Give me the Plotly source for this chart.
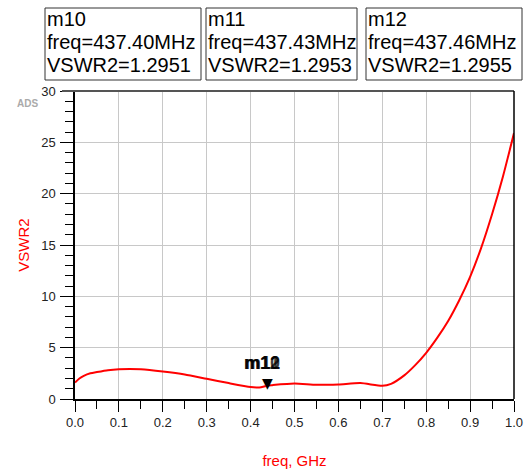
import plotly.graph_objects as go

freq = [0.0, 0.01, 0.02, 0.035, 0.05, 0.075, 0.1, 0.125, 0.15, 0.2, 0.25, 0.3, 0.35, 0.4, 0.42, 0.4374, 0.45, 0.5, 0.55, 0.6, 0.65, 0.7, 0.72, 0.75, 0.775, 0.8, 0.825, 0.85, 0.875, 0.9, 0.925, 0.95, 0.975, 1.0]
vswr = [1.6, 2.0, 2.26, 2.5, 2.62, 2.8, 2.9, 2.93, 2.9, 2.68, 2.39, 1.97, 1.55, 1.17, 1.12, 1.2951, 1.35, 1.5, 1.38, 1.42, 1.55, 1.28, 1.48, 2.3, 3.3, 4.5, 5.95, 7.6, 9.6, 11.9, 14.7, 18.0, 21.7, 25.9]

markers = ["m10", "m11", "m12"]
marker_freq_mhz = ["437.40", "437.43", "437.46"]
marker_vswr = ["1.2951", "1.2953", "1.2955"]
marker_x = 0.4374
marker_y = 1.2951

x_ticks = [0.0, 0.1, 0.2, 0.3, 0.4, 0.5, 0.6, 0.7, 0.8, 0.9, 1.0]
y_ticks = [0, 5, 10, 15, 20, 25, 30]

FONT = "Liberation Sans, Arial, sans-serif"

fig = go.Figure()
fig.add_trace(go.Scatter(x=freq, y=vswr, mode="lines",
                         line=dict(color="#ff0000", width=2, shape="spline", smoothing=0.6),
                         hoverinfo="skip", showlegend=False))

W, H = 525, 469
L, R, T, B = 75, 11, 91, 70
pw, ph = W - L - R, H - T - B

def px(xp):  # page pixel x -> paper
    return (xp - L) / pw

def py(yp):  # page pixel y -> paper
    return (H - B - yp) / ph

annotations = []
shapes = []
box_left = [45, 206, 366]
box_right = [201, 357, 522]
line_tops = [7, 30, 53]
for i, m in enumerate(markers):
    shapes.append(dict(type="rect", xref="paper", yref="paper",
                       x0=px(box_left[i]), x1=px(box_right[i]), y0=py(80), y1=py(8),
                       line=dict(color="#333", width=1)))
    lines = [m, f"freq={marker_freq_mhz[i]}MHz", f"VSWR2={marker_vswr[i]}"]
    for j, t in enumerate(lines):
        annotations.append(dict(
            xref="paper", yref="paper", x=px(box_left[i] + 1), y=py(line_tops[j]),
            xanchor="left", yanchor="top", showarrow=False, borderpad=0,
            text=t, font=dict(family=FONT, size=20, color="#000")))

for m in markers:
    annotations.append(dict(
        xref="x", yref="y", x=marker_x, y=marker_y, xanchor="center", yanchor="bottom",
        showarrow=False, text=f"<b>{m}</b>", xshift=-5, yshift=12, borderpad=0,
        font=dict(family=FONT, size=18, color="#000"), opacity=0.75))

annotations.append(dict(
    xref="x", yref="y", x=marker_x, y=marker_y, xanchor="center", yanchor="bottom",
    showarrow=False, text="▼", yshift=-6, borderpad=0,
    font=dict(family="DejaVu Sans", size=14, color="#000")))

annotations.append(dict(
    xref="paper", yref="paper", x=px(27), y=py(103), xanchor="center", yanchor="middle",
    showarrow=False, text="<b>ADS</b>", font=dict(family=FONT, size=10, color="#aaaaaa")))

shapes += [
    dict(type="line", xref="paper", yref="paper", x0=px(62), x1=1, y0=1, y1=1,
         line=dict(color="#555", width=2)),
    dict(type="line", xref="paper", yref="paper", x0=1, x1=1, y0=0, y1=1,
         line=dict(color="#000", width=1.5)),
]

fig.update_layout(
    width=W, height=H, margin=dict(l=L, r=R, t=T, b=B),
    paper_bgcolor="white", plot_bgcolor="white",
    font=dict(family=FONT, size=13, color="#222"),
    annotations=annotations,
    shapes=shapes,
    xaxis=dict(range=[0, 1], tickvals=x_ticks, tickformat=".1f", automargin=False,
               showgrid=True, gridcolor="#c8c8c8", gridwidth=1,
               ticks="outside", ticklen=11, tickcolor="#000", tickwidth=1,
               showline=True, linecolor="#000", linewidth=1.5,
               minor=dict(dtick=0.05, ticks="outside", ticklen=8, tickcolor="#000", showgrid=False),
               zeroline=False,
               title=dict(text="freq, GHz", font=dict(color="#ff0000", size=15, family=FONT), standoff=28)),
    yaxis=dict(range=[0, 30], tickvals=y_ticks, automargin=False,
               showgrid=True, gridcolor="#c8c8c8", gridwidth=1,
               ticks="outside", ticklen=13, tickcolor="#000", tickwidth=1,
               showline=True, linecolor="#000", linewidth=1.5,
               minor=dict(dtick=1, ticks="outside", ticklen=8, tickcolor="#000", showgrid=False),
               zeroline=False, ticklabelstandoff=2,
               title=dict(text="VSWR2", font=dict(color="#ff0000", size=15, family=FONT), standoff=8)),
)

fig.write_html("out.html", config={"displayModeBar": False},
               post_script="document.body.style.margin='0';document.body.style.overflow='hidden';")
